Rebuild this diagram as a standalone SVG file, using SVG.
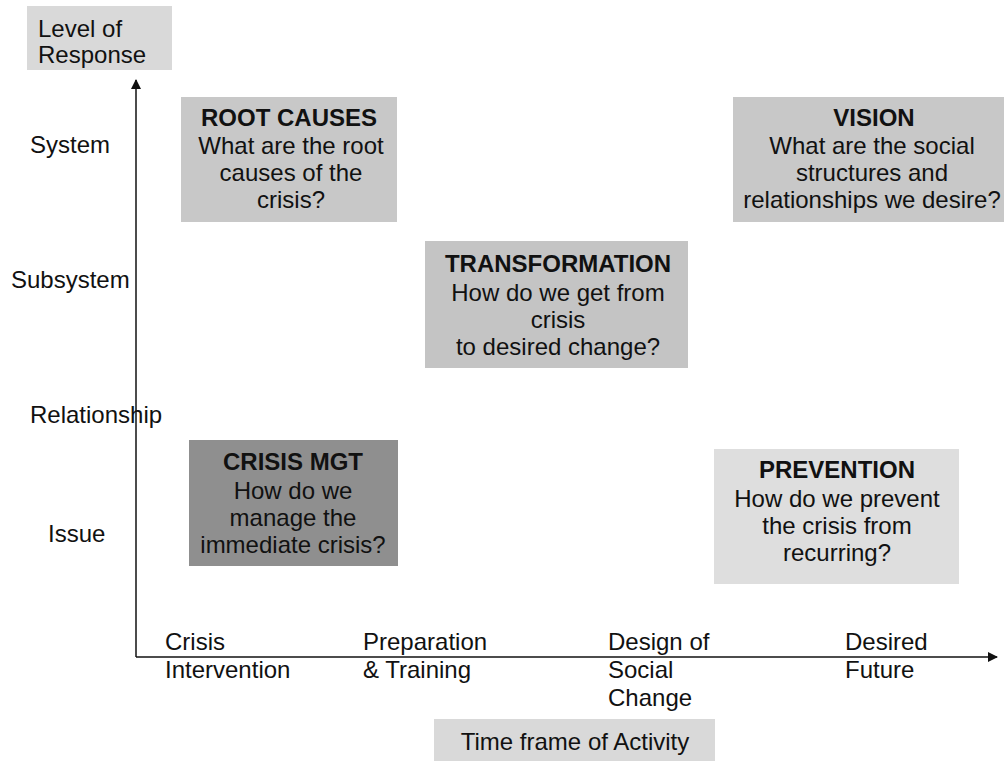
<svg xmlns="http://www.w3.org/2000/svg" width="1004" height="761" viewBox="0 0 1004 761">
<defs>
<style>
text{font-family:"Liberation Sans",Arial,sans-serif;font-size:24px;fill:#111}
.c{text-anchor:middle}
.b{font-weight:bold}
.ax{stroke:#111;stroke-width:1.5;fill:none}
</style>
<marker id="ah" markerWidth="10" markerHeight="10" refX="9" refY="5" orient="auto" markerUnits="userSpaceOnUse"><path d="M0,0 L10,5 L0,10 z" fill="#111"/></marker>
</defs>
<rect width="1004" height="761" fill="#fff"/>
<g id="connectors">
<line class="ax" x1="136" y1="657" x2="136" y2="80" marker-end="url(#ah)"/>
<line class="ax" x1="136" y1="657" x2="997" y2="657" marker-end="url(#ah)"/>
</g>
<g id="level-of-response">
<rect x="27" y="6" width="145" height="64" fill="#d9d9d9"/>
<text x="38" y="37">Level of</text>
<text x="38" y="63">Response</text>
</g>
<g id="y-labels">
<text x="30" y="153">System</text>
<text x="11" y="288">Subsystem</text>
<text x="30" y="423">Relationship</text>
<text x="48" y="542">Issue</text>
</g>
<g id="root-causes">
<rect x="181" y="97" width="216" height="125" fill="#c8c8c8"/>
<text class="c b" x="289" y="126">ROOT CAUSES</text>
<text class="c" x="291" y="154">What are the root</text>
<text class="c" x="291" y="181">causes of the</text>
<text class="c" x="291" y="208">crisis?</text>
</g>
<g id="vision">
<rect x="733" y="97" width="275" height="125" fill="#c8c8c8"/>
<text class="c b" x="874" y="126">VISION</text>
<text class="c" x="872" y="154">What are the social</text>
<text class="c" x="872" y="181">structures and</text>
<text class="c" x="872" y="208">relationships we desire?</text>
</g>
<g id="transformation">
<rect x="425" y="241" width="263" height="127" fill="#c4c4c4"/>
<text class="c b" x="558" y="272">TRANSFORMATION</text>
<text class="c" x="558" y="301">How do we get from</text>
<text class="c" x="558" y="328">crisis</text>
<text class="c" x="558" y="355">to desired change?</text>
</g>
<g id="crisis-mgt">
<rect x="189" y="440" width="209" height="126" fill="#8f8f8f"/>
<text class="c b" x="293" y="470">CRISIS MGT</text>
<text class="c" x="293" y="499">How do we</text>
<text class="c" x="293" y="526">manage the</text>
<text class="c" x="293" y="553">immediate crisis?</text>
</g>
<g id="prevention">
<rect x="714" y="449" width="245" height="135" fill="#dedede"/>
<text class="c b" x="837" y="478">PREVENTION</text>
<text class="c" x="837" y="507">How do we prevent</text>
<text class="c" x="837" y="534">the crisis from</text>
<text class="c" x="837" y="561">recurring?</text>
</g>
<g id="x-labels">
<text x="165" y="650">Crisis</text>
<text x="165" y="678">Intervention</text>
<text x="363" y="650">Preparation</text>
<text x="363" y="678">&amp; Training</text>
<text x="608" y="650">Design of</text>
<text x="608" y="678">Social</text>
<text x="608" y="706">Change</text>
<text x="845" y="650">Desired</text>
<text x="845" y="678">Future</text>
</g>
<g id="time-frame">
<rect x="434" y="719" width="281" height="45" fill="#d9d9d9"/>
<text class="c" x="575" y="750">Time frame of Activity</text>
</g>
</svg>
